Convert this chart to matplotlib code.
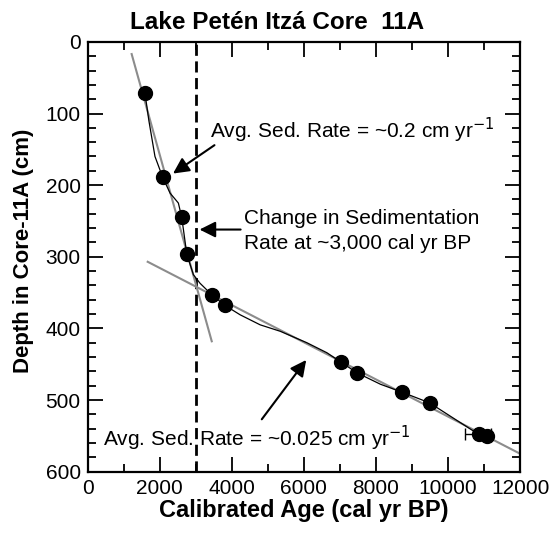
import numpy as np
import matplotlib.pyplot as plt
from matplotlib.ticker import MultipleLocator

plt.rcParams['font.family'] = ['Liberation Sans', 'DejaVu Sans']

# radiocarbon dated levels (cal yr BP, depth cm)
age = [1592, 2083, 2611, 2750, 3444, 3814, 7028, 7472, 8722, 9489, 10850, 11080]
depth = [72, 189, 245, 296, 353, 368, 447, 462, 489, 504, 548, 550]

# age-depth model line
model_age = [1592, 1700, 1869, 2083, 2286, 2518, 2611, 2680, 2750, 2935, 3119, 3444,
             3814, 4231, 4786, 5342, 6083, 6639, 7028, 7472, 8125, 8722, 9489, 10850, 11080]
model_depth = [72, 110, 160, 189, 211, 225, 245, 270, 296, 325, 337, 353,
               368, 381, 395, 404, 420, 434, 447, 462, 478, 489, 504, 548, 550]

# linear sedimentation rate fits
fit1_age = [1222, 3444]
fit1_depth = [17, 418]
fit2_age = [1667, 12000]
fit2_depth = [307, 575]

# error bar on the basal date
err_age = 10830
err_depth = 548
err_x = 350

fig = plt.figure(figsize=(5.51, 5.44), dpi=100)
ax = fig.add_axes([0.159, 0.133, 0.785, 0.790])

ax.axvline(3000, color='black', lw=2.0, ls=(0, (4, 2)), zorder=1)
ax.plot(fit1_age, fit1_depth, color='#8c8c8c', lw=1.5, zorder=2)
ax.plot(fit2_age, fit2_depth, color='#8c8c8c', lw=1.5, zorder=2)
ax.plot(model_age, model_depth, color='black', lw=0.9, zorder=3)
ax.errorbar(err_age, err_depth, xerr=err_x, fmt='none', ecolor='black',
            elinewidth=1, capsize=4, capthick=1, zorder=3)
ax.plot(age, depth, 'o', color='black', ms=10, zorder=4)

ax.set_xlim(0, 12000)
ax.set_ylim(600, 0)
ax.xaxis.set_major_locator(MultipleLocator(2000))
ax.xaxis.set_minor_locator(MultipleLocator(1000))
ax.yaxis.set_major_locator(MultipleLocator(100))
ax.yaxis.set_minor_locator(MultipleLocator(20))
ax.tick_params(which='both', direction='in', top=True, right=True,
               labelsize=15, width=1.3, pad=5)
ax.tick_params(which='major', length=11)
ax.tick_params(which='minor', length=6)
for s in ax.spines.values():
    s.set_linewidth(1.6)

ax.set_xlabel('Calibrated Age (cal yr BP)', fontsize=17, fontweight='bold', labelpad=1)
ax.set_ylabel('Depth in Core-11A (cm)', fontsize=16, fontweight='bold')
ax.yaxis.set_label_coords(-0.125, 0.515)
fig.text(0.503, 0.958, 'Lake Petén Itzá Core  11A', fontsize=17.5, fontweight='bold',
         ha='center', va='center')

arrow = dict(arrowstyle='-|>', color='black', lw=1.5, mutation_scale=24)
ax.annotate('', xy=(2306, 186), xytext=(3583, 142), arrowprops=arrow)
ax.text(3397, 123, 'Avg. Sed. Rate = ~0.2 cm yr$^{-1}$', fontsize=15, va='center')

ax.annotate('', xy=(3028, 262), xytext=(4322, 262), arrowprops=arrow)
ax.text(4342, 264, 'Change in Sedimentation\nRate at ~3,000 cal yr BP',
        fontsize=15, va='center', linespacing=1.45)

ax.annotate('', xy=(6111, 441), xytext=(4786, 530), arrowprops=arrow)
ax.text(433, 554, 'Avg. Sed. Rate = ~0.025 cm yr$^{-1}$', fontsize=15, va='center')

fig.savefig('out.png', dpi=100)
